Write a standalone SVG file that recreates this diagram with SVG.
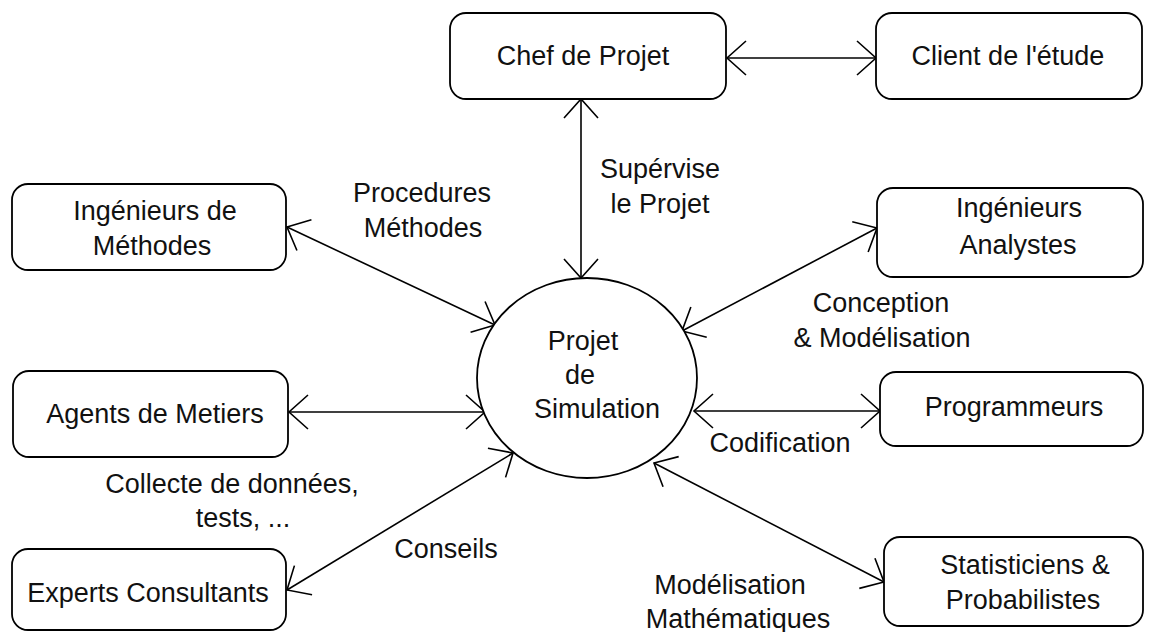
<svg xmlns="http://www.w3.org/2000/svg" width="1150" height="632" viewBox="0 0 1150 632">
<defs>
<style>
.box{fill:#fff;stroke:#000;stroke-width:1.8}
.t{font-family:"Liberation Sans",Arial,sans-serif;font-size:27px;fill:#111;text-anchor:middle}
.c{stroke:#000;stroke-width:1.6;fill:none;marker-start:url(#ah);marker-end:url(#ah)}
</style>
<marker id="ah" markerUnits="userSpaceOnUse" markerWidth="40" markerHeight="40" refX="0" refY="0" viewBox="-25 -20 30 40" orient="auto-start-reverse" overflow="visible">
<path d="M -19 -17 L 0 0 L -19 17" fill="none" stroke="#000" stroke-width="1.6"/>
</marker>
</defs>
<rect width="1150" height="632" fill="#fff"/>
<g id="connectors">
<line class="c" x1="727" y1="58" x2="876" y2="58"/>
<line class="c" x1="581" y1="99" x2="581" y2="278"/>
<line class="c" x1="287" y1="227" x2="495" y2="325"/>
<line class="c" x1="289" y1="412" x2="485" y2="412"/>
<line class="c" x1="287" y1="590" x2="513" y2="453"/>
<line class="c" x1="877" y1="228" x2="682" y2="331"/>
<line class="c" x1="880" y1="411" x2="694" y2="411"/>
<line class="c" x1="884" y1="582" x2="654" y2="463"/>
</g>
<g id="chef"><rect class="box" x="450" y="13" width="276" height="86" rx="16"/><text class="t" x="583" y="65">Chef de Projet</text></g>
<g id="client"><rect class="box" x="876" y="13" width="266" height="86" rx="16"/><text class="t" x="1008" y="65">Client de l'étude</text></g>
<g id="methodes"><rect class="box" x="12" y="184" width="274" height="86" rx="16"/><text class="t" x="155" y="220">Ingénieurs de</text><text class="t" x="152" y="255">Méthodes</text></g>
<g id="agents"><rect class="box" x="13" y="371" width="275" height="86" rx="16"/><text class="t" x="155" y="423">Agents de Metiers</text></g>
<g id="experts"><rect class="box" x="12" y="549" width="274" height="81" rx="16"/><text class="t" x="148" y="602">Experts Consultants</text></g>
<g id="analystes"><rect class="box" x="877" y="188" width="266" height="89" rx="16"/><text class="t" x="1019" y="217">Ingénieurs</text><text class="t" x="1018" y="254">Analystes</text></g>
<g id="programmeurs"><rect class="box" x="880" y="372" width="263" height="74" rx="16"/><text class="t" x="1014" y="416">Programmeurs</text></g>
<g id="statisticiens"><rect class="box" x="884" y="537" width="259" height="89" rx="16"/><text class="t" x="1025" y="574">Statisticiens &amp;</text><text class="t" x="1023" y="609">Probabilistes</text></g>
<g id="projet"><ellipse class="box" cx="587" cy="378" rx="110" ry="100"/><text class="t" x="583" y="350">Projet</text><text class="t" x="580" y="384">de</text><text class="t" x="597" y="418">Simulation</text></g>
<g id="labels">
<text class="t" x="660" y="178">Supérvise</text><text class="t" x="660" y="213">le Projet</text>
<text class="t" x="422" y="202">Procedures</text><text class="t" x="423" y="237">Méthodes</text>
<text class="t" x="881" y="312">Conception</text><text class="t" x="882" y="347">&amp; Modélisation</text>
<text class="t" x="780" y="452">Codification</text>
<text class="t" x="232" y="493">Collecte de données,</text><text class="t" x="243" y="527">tests, ...</text>
<text class="t" x="446" y="558">Conseils</text>
<text class="t" x="730" y="594">Modélisation</text><text class="t" x="738" y="628">Mathématiques</text>
</g>
</svg>
